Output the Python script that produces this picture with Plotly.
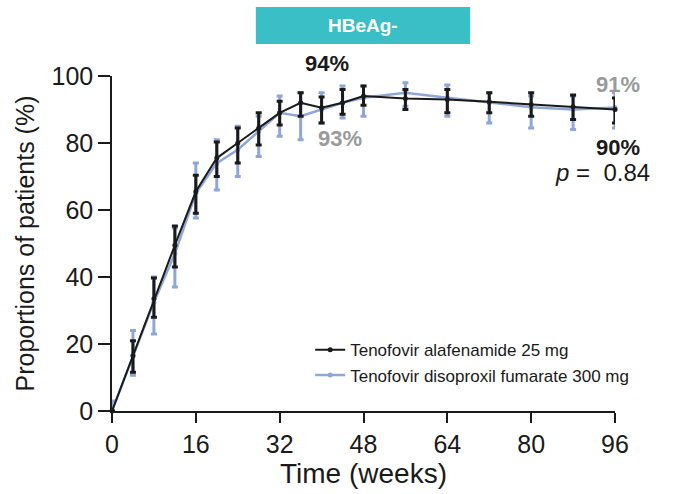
import plotly.graph_objects as go

weeks = [0, 4, 8, 12, 16, 20, 24, 28, 32, 36, 40, 44, 48, 56, 64, 72, 80, 88, 96]

taf = [0, 16.5, 33.5, 49.5, 65.5, 75.5, 80, 84.5, 89, 92, 90.5, 92, 94, 93.3, 93, 92.3, 91.5, 90.8, 90]
taf_hi = [0, 21, 39.7, 55.2, 70.4, 80.3, 84.5, 89, 92.5, 95, 93.7, 96, 97, 96, 96, 95, 95, 94.3, 93.4]
taf_lo = [0, 11.6, 28, 43, 59, 70, 74, 79.4, 85.4, 88, 86, 88.6, 91.3, 90, 89, 89, 88, 87, 86]

tdf = [0, 16.5, 32.5, 47, 65, 74, 78, 83.5, 89, 88, 90, 92, 93.5, 95, 93.5, 92, 90.7, 90, 90.6]
tdf_hi = [3, 24, 40, 54.6, 74, 81, 85, 88, 94, 95, 95, 97, 97, 98, 97.3, 95, 94, 94, 95]
tdf_lo = [0, 10.7, 23, 37, 57.6, 66, 70, 76, 82, 81, 86, 87.5, 88, 91, 88, 86, 84.5, 84, 84.5]

x_ticks = [0, 16, 32, 48, 64, 80, 96]
y_ticks = [0, 20, 40, 60, 80, 100]

BLACK = "#1a1a1a"
BLUE = "#8ea6d8"
TEAL = "#3bbfc6"
GREY = "#9a9a9a"
FONT = "Arial, Liberation Sans, sans-serif"

fig = go.Figure()

fig.add_trace(go.Scatter(
    x=weeks, y=tdf, mode="lines+markers",
    name="Tenofovir disoproxil fumarate 300 mg",
    line=dict(color=BLUE, width=2.5),
    marker=dict(color=BLUE, size=5),
    error_y=dict(type="data", symmetric=False,
                 array=[h - v for h, v in zip(tdf_hi, tdf)],
                 arrayminus=[v - l for v, l in zip(tdf, tdf_lo)],
                 color=BLUE, thickness=3, width=3),
    cliponaxis=False,
))

fig.add_trace(go.Scatter(
    x=weeks, y=taf, mode="lines+markers",
    name="Tenofovir alafenamide 25 mg",
    line=dict(color=BLACK, width=2),
    marker=dict(color=BLACK, size=5),
    error_y=dict(type="data", symmetric=False,
                 array=[h - v for h, v in zip(taf_hi, taf)],
                 arrayminus=[v - l for v, l in zip(taf, taf_lo)],
                 color=BLACK, thickness=3, width=3),
    cliponaxis=False,
))

# Title box
fig.add_shape(type="rect", xref="paper", yref="paper",
              x0=0.286, x1=0.712, y0=1.0955, y1=1.206,
              fillcolor=TEAL, line=dict(width=0), layer="below")
fig.add_annotation(xref="paper", yref="paper", x=0.499, y=1.152,
                   xanchor="center", yanchor="middle",
                   text="<b>HBeAg-</b>", showarrow=False,
                   font=dict(family=FONT, size=19, color="white"))

ann = [
    (0.4274, 1.0388, "<b>94%</b>", BLACK),
    (0.4533, 0.8149, "<b>93%</b>", GREY),
    (1.006, 0.976, "<b>91%</b>", GREY),
    (1.006, 0.788, "<b>90%</b>", BLACK),
]
for xx, yy, t, c in ann:
    fig.add_annotation(xref="paper", yref="paper", x=xx, y=yy, text=t,
                       xanchor="center", yanchor="middle", showarrow=False,
                       font=dict(family=FONT, size=22, color=c))
fig.add_annotation(xref="paper", yref="paper", x=0.976, y=0.713,
                   xanchor="center", yanchor="middle",
                   text="<i>p</i> =  0.84", showarrow=False,
                   font=dict(family=FONT, size=24, color=BLACK))

fig.update_layout(
    width=677, height=494,
    margin=dict(l=112, r=62, t=76, b=83),
    plot_bgcolor="white", paper_bgcolor="white",
    font=dict(family=FONT, color=BLACK),
    showlegend=True,
    legend=dict(x=0.394, y=0.235, xanchor="left", yanchor="top",
                traceorder="reversed",
                font=dict(family=FONT, size=17, color=BLACK),
                bgcolor="rgba(0,0,0,0)", tracegroupgap=0),
    xaxis=dict(range=[0, 96], tickvals=x_ticks, ticks="outside", ticklen=10,
               tickwidth=1.5, tickcolor=BLACK, showline=True, linecolor=BLACK,
               linewidth=1.5, showgrid=False, zeroline=False,
               tickfont=dict(family=FONT, size=25, color=BLACK),
               title=dict(text="Time (weeks)", standoff=6,
                          font=dict(family=FONT, size=28, color=BLACK))),
    yaxis=dict(range=[0, 100], tickvals=y_ticks, ticks="outside", ticklen=12,
               tickwidth=1.5, tickcolor=BLACK, showline=True, linecolor=BLACK,
               linewidth=1.5, showgrid=False, zeroline=False,
               tickfont=dict(family=FONT, size=25, color=BLACK),
               title=dict(text="Proportions of patients (%)", standoff=10,
                          font=dict(family=FONT, size=25, color=BLACK))),
)

fig.write_html("out.html")
